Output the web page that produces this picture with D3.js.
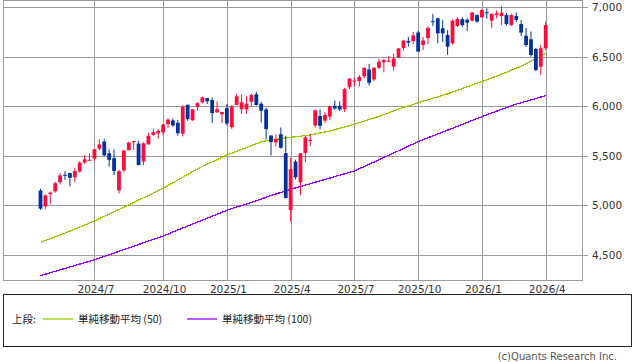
<!DOCTYPE html>
<html>
<head>
<meta charset="utf-8">
<script src="https://cdn.jsdelivr.net/npm/d3@7"></script>
<style>
  body { margin: 0; background: #fff; }
  svg { display: block; font-family: "DejaVu Sans", sans-serif; }
</style>
</head>
<body>
<div id="chart"></div>
<script>
// weekly candles, Apr 2024 -> Apr 2026
const opens = [5149, 4988, 5114, 5142, 5233, 5308, 5325, 5283, 5341, 5432, 5459, 5471, 5572, 5644, 5526, 5476, 5151, 5353, 5557, 5637,
    5623, 5442, 5615, 5711, 5726, 5737, 5820, 5857, 5833, 5724, 6015, 5860, 5992, 6040, 6083, 6063, 5940, 5920, 5982, 5788,
    6014, 5970, 5969, 6046, 6121, 6026, 5968, 5705, 5636, 5718, 5527, 4953, 5441, 5232, 5529, 5655, 5807, 5902, 5855, 5897,
    6005, 6004, 5970, 6193, 6259, 6255, 6304, 6372, 6272, 6389, 6445, 6457, 6401, 6494, 6590, 6661, 6657, 6745, 6620, 6690,
    6860, 6888, 6788, 6720, 6636, 6811, 6880, 6875, 6865, 6922, 6899, 6950, 6865, 6922, 6912, 6922, 6821, 6912, 6831, 6713,
    6677, 6579, 6400, 6586];
const highs = [5168, 5111, 5139, 5239, 5325, 5342, 5330, 5375, 5447, 5505, 5524, 5570, 5666, 5670, 5566, 5566, 5358, 5555, 5643, 5651,
    5651, 5636, 5733, 5767, 5767, 5822, 5879, 5878, 5863, 6012, 6018, 5972, 6044, 6099, 6085, 6090, 6049, 5940, 6022, 6014,
    6128, 6120, 6101, 6128, 6147, 6044, 5986, 5705, 5715, 5786, 5700, 5481, 5460, 5528, 5700, 5721, 5969, 5968, 5944, 6009,
    6060, 6050, 6187, 6284, 6290, 6316, 6395, 6427, 6396, 6481, 6478, 6508, 6532, 6587, 6672, 6699, 6750, 6764, 6700, 6808,
    6932, 6895, 6870, 6770, 6875, 6900, 6900, 6890, 6956, 6930, 6985, 6990, 6945, 6970, 7013, 6940, 6935, 6946, 6872, 6790,
    6755, 6590, 6619, 6855];
const lows = [4954, 4963, 5011, 5128, 5211, 5257, 5191, 5234, 5329, 5420, 5447, 5448, 5557, 5497, 5390, 5306, 5120, 5331, 5553, 5560,
    5402, 5406, 5614, 5703, 5674, 5708, 5783, 5792, 5703, 5696, 5853, 5853, 5957, 6028, 6024, 5832, 5932, 5829, 5809, 5773,
    6014, 5923, 5923, 6004, 6008, 5837, 5666, 5505, 5597, 5572, 5069, 4835, 5262, 5101, 5434, 5598, 5786, 5767, 5835, 5862,
    5964, 5952, 5943, 6174, 6201, 6201, 6281, 6212, 6252, 6374, 6343, 6444, 6360, 6488, 6563, 6604, 6626, 6550, 6570, 6630,
    6811, 6636, 6650, 6520, 6625, 6800, 6800, 6760, 6855, 6845, 6890, 6885, 6790, 6888, 6821, 6815, 6810, 6852, 6710, 6600,
    6500, 6355, 6316, 6570];
const closes = [4967, 5100, 5128, 5223, 5303, 5304, 5278, 5347, 5431, 5465, 5460, 5567, 5615, 5505, 5459, 5346, 5344, 5554, 5634, 5648,
    5408, 5626, 5703, 5738, 5751, 5815, 5865, 5808, 5728, 5995, 5870, 5969, 6032, 6090, 6051, 5931, 5970, 5942, 5827, 5997,
    6101, 6041, 6026, 6115, 6013, 5955, 5770, 5639, 5668, 5581, 5074, 5363, 5283, 5525, 5687, 5660, 5958, 5803, 5912, 6000,
    5977, 5968, 6173, 6279, 6260, 6297, 6389, 6238, 6389, 6450, 6467, 6460, 6482, 6584, 6664, 6644, 6716, 6553, 6664, 6792,
    6850, 6737, 6737, 6602, 6865, 6882, 6820, 6845, 6946, 6855, 6973, 6940, 6932, 6939, 6946, 6831, 6922, 6872, 6744, 6619,
    6518, 6367, 6586, 6821];
// moving averages
const ma50 = [4627, 4645, 4663, 4682, 4700, 4720, 4740, 4760, 4780, 4800, 4821, 4842, 4865, 4888, 4912, 4935, 4958, 4980, 5004, 5028,
    5052, 5076, 5100, 5124, 5148, 5172, 5200, 5228, 5256, 5284, 5312, 5340, 5368, 5394, 5416, 5438, 5462, 5485, 5508, 5527,
    5546, 5565, 5584, 5603, 5622, 5642, 5652, 5660, 5667, 5674, 5680, 5687, 5692, 5698, 5704, 5710, 5720, 5730, 5740, 5750,
    5764, 5778, 5791, 5805, 5818, 5834, 5850, 5866, 5882, 5898, 5916, 5935, 5954, 5972, 5988, 6004, 6020, 6036, 6051, 6066,
    6081, 6096, 6111, 6126, 6143, 6161, 6179, 6197, 6215, 6233, 6249, 6268, 6287, 6306, 6325, 6344, 6364, 6384, 6406, 6429,
    6454, 6480, 6507, 6535];
const ma100 = [4290, 4304, 4319, 4333, 4348, 4362, 4377, 4391, 4406, 4420, 4435, 4450, 4467, 4484, 4501, 4518, 4535, 4553, 4570, 4587,
    4604, 4621, 4638, 4656, 4673, 4690, 4710, 4730, 4750, 4770, 4790, 4810, 4830, 4850, 4870, 4890, 4910, 4930, 4950, 4966,
    4982, 4998, 5014, 5031, 5047, 5064, 5081, 5098, 5114, 5130, 5146, 5162, 5176, 5190, 5204, 5218, 5233, 5247, 5261, 5275,
    5290, 5304, 5318, 5332, 5347, 5369, 5392, 5415, 5437, 5460, 5483, 5506, 5528, 5551, 5574, 5597, 5620, 5643, 5662, 5682,
    5701, 5720, 5740, 5759, 5778, 5798, 5817, 5837, 5856, 5876, 5895, 5914, 5933, 5951, 5969, 5987, 6005, 6022, 6036, 6050,
    6064, 6078, 6093, 6107];

const monthLabels = ["2024/7", "2024/10", "2025/1", "2025/4", "2025/7", "2025/10", "2026/1", "2026/4"];
const yTicks = [4500, 5000, 5500, 6000, 6500, 7000];

const weeks = d3.timeMonday.range(new Date(2024, 3, 15), new Date(2026, 3, 7));
const candles = weeks.map((d, i) => ({ i, date: d, open: opens[i], high: highs[i], low: lows[i], close: closes[i] }));

const width = 638, height = 362;
const plot = { left: 3.5, top: 0.5, right: 582.5, bottom: 280.5 };

const x = d3.scalePoint().domain(d3.range(weeks.length)).range([40.5, 545.7]);
const y = d3.scaleLinear().domain([4500, 7000]).range([254.8, 7.3]);

// month gridline = first weekly candle of that month
const monthTicks = monthLabels.map(label => {
    const [yy, mm] = label.split('/').map(Number);
    return { label, i: d3.bisectLeft(weeks, new Date(yy, mm - 1, 1)) };
});

const svg = d3.select("#chart").append("svg")
    .attr("width", width)
    .attr("height", height);

svg.append("rect").attr("width", width).attr("height", height).attr("fill", "#fff");

const grid = svg.append("g").attr("stroke", "#9a9a9a").attr("stroke-width", 1).attr("shape-rendering", "crispEdges");

grid.selectAll("line.h")
    .data(yTicks)
    .enter().append("line")
    .attr("class", "h")
    .attr("x1", plot.left)
    .attr("x2", plot.right + 5)
    .attr("y1", d => Math.round(y(d)) + 0.5)
    .attr("y2", d => Math.round(y(d)) + 0.5);

grid.selectAll("line.v")
    .data(monthTicks)
    .enter().append("line")
    .attr("class", "v")
    .attr("x1", d => Math.round(x(d.i)) + 0.5)
    .attr("x2", d => Math.round(x(d.i)) + 0.5)
    .attr("y1", plot.top)
    .attr("y2", plot.bottom);

grid.append("rect")
    .attr("x", plot.left)
    .attr("y", plot.top)
    .attr("width", plot.right - plot.left)
    .attr("height", plot.bottom - plot.top)
    .attr("fill", "none");

// y labels (right side)
svg.selectAll("text.ylab")
    .data(yTicks)
    .enter().append("text")
    .attr("class", "ylab")
    .attr("x", 592)
    .attr("y", d => y(d) + 4)
    .text(d3.format(","))
    .style("font-size", "10.5px")
    .style("fill", "#333");

// x labels
svg.selectAll("text.xlab")
    .data(monthTicks)
    .enter().append("text")
    .attr("class", "xlab")
    .attr("x", d => x(d.i) + 1.5)
    .attr("y", 292.5)
    .attr("text-anchor", "middle")
    .text(d => d.label)
    .style("font-size", "10.5px")
    .style("fill", "#333");

// moving averages
const maLine = d3.line()
    .x((d, i) => x(i))
    .y(d => y(d));

svg.append("path")
    .datum(ma100)
    .attr("d", maLine)
    .attr("shape-rendering", "crispEdges")
    .style("fill", "none")
    .style("stroke", "#9900ff")
    .style("stroke-width", "1.3");

svg.append("path")
    .datum(ma50)
    .attr("d", maLine)
    .attr("shape-rendering", "crispEdges")
    .style("fill", "none")
    .style("stroke", "#99cc00")
    .style("stroke-width", "1.3");

// candles
const upColor = "#ff0a3c", downColor = "#003399";
const c = svg.append("g").selectAll("g")
    .data(candles)
    .enter().append("g")
    .attr("fill", d => d.close >= d.open ? upColor : downColor)
    .attr("stroke", d => d.close >= d.open ? upColor : downColor);

c.append("line")
    .attr("x1", d => x(d.i))
    .attr("x2", d => x(d.i))
    .attr("y1", d => y(d.high))
    .attr("y2", d => y(d.low))
    .attr("stroke-width", 1);

c.append("rect")
    .attr("x", d => x(d.i) - 1.9)
    .attr("width", 3.8)
    .attr("y", d => y(Math.max(d.open, d.close)))
    .attr("height", d => Math.max(1, Math.abs(y(d.open) - y(d.close))))
    .attr("stroke", "none");

// legend
const legend = svg.append("g").style("font-family", "'Noto Sans CJK JP', 'DejaVu Sans', sans-serif");
legend.append("rect")
    .attr("x", 3.5).attr("y", 294.5)
    .attr("width", 628).attr("height", 52)
    .attr("fill", "none")
    .attr("stroke", "#222");

legend.append("text")
    .attr("x", 12).attr("y", 322.5)
    .text("上段:")
    .style("font-size", "10.5px")
    .style("fill", "#222");

const legendItems = [
    { label: "単純移動平均 (50)", color: "#99cc00", x: 43 },
    { label: "単純移動平均 (100)", color: "#9900ff", x: 187 }
];
legendItems.forEach(item => {
    legend.append("line")
        .attr("x1", item.x).attr("x2", item.x + 30)
        .attr("y1", 319).attr("y2", 319)
        .attr("stroke", item.color)
        .attr("stroke-width", 1.3);
    legend.append("text")
        .attr("x", item.x + 35).attr("y", 322.5)
        .text(item.label)
        .style("font-size", "10.5px")
        .style("fill", "#222");
});

svg.append("text")
    .attr("x", 617).attr("y", 360)
    .attr("text-anchor", "end")
    .text("(c)Quants Research Inc.")
    .style("font-size", "10px")
    .style("fill", "#555");
</script>
</body>
</html>
